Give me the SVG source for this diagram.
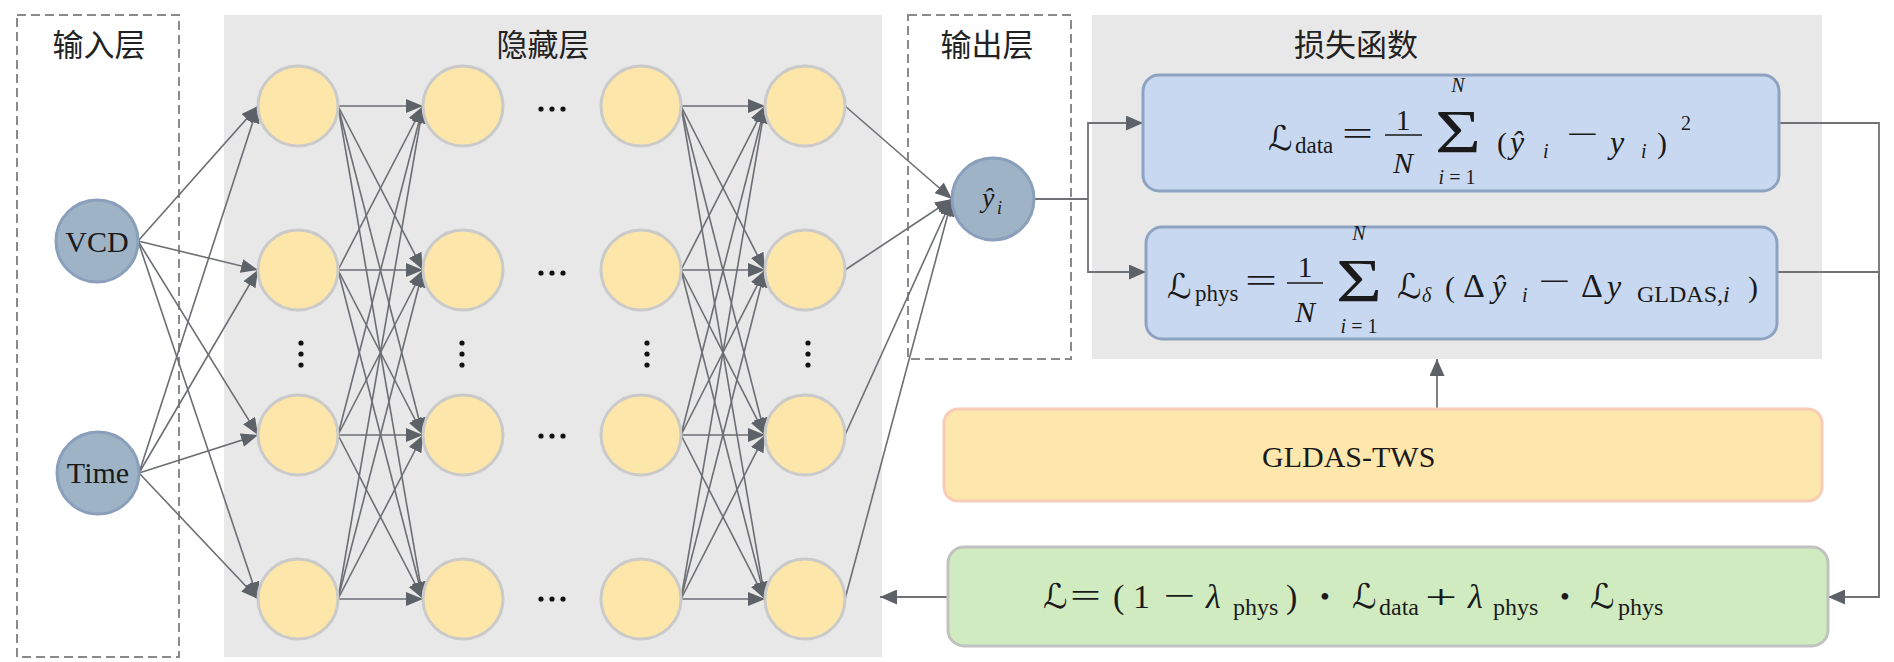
<svg xmlns="http://www.w3.org/2000/svg" width="1894" height="662" viewBox="0 0 1894 662">
<style>
.bg{fill:#e8e8e9}
.dash{fill:none;stroke:#8a8a8a;stroke-width:2;stroke-dasharray:9 5}
.hn{fill:#fde6a9;stroke:#cacaca;stroke-width:3}
.io{fill:#9fb3c6;stroke:#8a9fbc;stroke-width:3}
.e{stroke:#6b6e73;stroke-width:1.6;fill:none;marker-end:url(#ah)}
.c{stroke:#707275;stroke-width:1.8;fill:none}
.ca{stroke:#707275;stroke-width:1.8;fill:none;marker-end:url(#ah2)}
.h{font-family:"Noto Sans CJK SC",sans-serif;font-size:31px;fill:#222;text-anchor:middle}
.t{font-family:"Liberation Serif","Times New Roman","DejaVu Serif",serif;fill:#1a1a1a}
.i{font-family:"Liberation Serif","Times New Roman","DejaVu Serif",serif;font-style:italic;fill:#1a1a1a}
.cal{font-family:"DejaVu Serif","DejaVu Sans",serif;font-style:italic;fill:#1a1a1a}
.dot{fill:#111}
.fb{stroke:#1a1a1a;stroke-width:1.5}
</style>
<defs>
<marker id="ah" markerUnits="userSpaceOnUse" viewBox="0 0 17 14" markerWidth="17" markerHeight="14" refX="17" refY="7" orient="auto"><path d="M0,0 L17,7 L0,14 z" fill="#5d6168"/></marker>
<marker id="ah2" markerUnits="userSpaceOnUse" viewBox="0 0 17 15" markerWidth="17" markerHeight="15" refX="17" refY="7.5" orient="auto"><path d="M0,0 L17,7.5 L0,15 z" fill="#5d6168"/></marker>
</defs>
<rect width="1894" height="662" fill="#ffffff"/>

<g id="input-layer">
<rect class="dash" x="17" y="15" width="162" height="642"/>
<text class="h" x="99" y="56">输入层</text>
</g>
<g id="hidden-layer">
<rect class="bg" x="224" y="15" width="658" height="642"/>
<text class="h" x="543" y="56">隐藏层</text>
</g>
<g id="output-layer">
<rect class="dash" x="908" y="15" width="163" height="344"/>
<text class="h" x="987" y="56">输出层</text>
</g>
<g id="loss-function">
<rect class="bg" x="1092" y="15" width="730" height="344"/>
<text class="h" x="1356" y="56">损失函数</text>
</g>

<g id="connectors">
<line class="e" x1="138" y1="241" x2="258" y2="106"/>
<line class="e" x1="138" y1="241" x2="258" y2="270"/>
<line class="e" x1="138" y1="241" x2="258" y2="435"/>
<line class="e" x1="138" y1="241" x2="258" y2="599"/>
<line class="e" x1="139" y1="473" x2="258" y2="106"/>
<line class="e" x1="139" y1="473" x2="258" y2="270"/>
<line class="e" x1="139" y1="473" x2="258" y2="435"/>
<line class="e" x1="139" y1="473" x2="258" y2="599"/>

<line class="e" x1="338" y1="106" x2="423" y2="106"/>
<line class="e" x1="338" y1="106" x2="423" y2="270"/>
<line class="e" x1="338" y1="106" x2="423" y2="435"/>
<line class="e" x1="338" y1="106" x2="423" y2="599"/>
<line class="e" x1="338" y1="270" x2="423" y2="106"/>
<line class="e" x1="338" y1="270" x2="423" y2="270"/>
<line class="e" x1="338" y1="270" x2="423" y2="435"/>
<line class="e" x1="338" y1="270" x2="423" y2="599"/>
<line class="e" x1="338" y1="435" x2="423" y2="106"/>
<line class="e" x1="338" y1="435" x2="423" y2="270"/>
<line class="e" x1="338" y1="435" x2="423" y2="435"/>
<line class="e" x1="338" y1="435" x2="423" y2="599"/>
<line class="e" x1="338" y1="599" x2="423" y2="106"/>
<line class="e" x1="338" y1="599" x2="423" y2="270"/>
<line class="e" x1="338" y1="599" x2="423" y2="435"/>
<line class="e" x1="338" y1="599" x2="423" y2="599"/>

<line class="e" x1="681" y1="106" x2="765" y2="106"/>
<line class="e" x1="681" y1="106" x2="765" y2="270"/>
<line class="e" x1="681" y1="106" x2="765" y2="435"/>
<line class="e" x1="681" y1="106" x2="765" y2="599"/>
<line class="e" x1="681" y1="270" x2="765" y2="106"/>
<line class="e" x1="681" y1="270" x2="765" y2="270"/>
<line class="e" x1="681" y1="270" x2="765" y2="435"/>
<line class="e" x1="681" y1="270" x2="765" y2="599"/>
<line class="e" x1="681" y1="435" x2="765" y2="106"/>
<line class="e" x1="681" y1="435" x2="765" y2="270"/>
<line class="e" x1="681" y1="435" x2="765" y2="435"/>
<line class="e" x1="681" y1="435" x2="765" y2="599"/>
<line class="e" x1="681" y1="599" x2="765" y2="106"/>
<line class="e" x1="681" y1="599" x2="765" y2="270"/>
<line class="e" x1="681" y1="599" x2="765" y2="435"/>
<line class="e" x1="681" y1="599" x2="765" y2="599"/>

<line class="e" x1="845" y1="106" x2="952" y2="199"/>
<line class="e" x1="845" y1="270" x2="952" y2="199"/>
<line class="e" x1="845" y1="435" x2="952" y2="199"/>
<line class="e" x1="845" y1="599" x2="952" y2="199"/>

<polyline class="c" points="1034,199 1088,199"/>
<polyline class="ca" points="1088,199 1088,123 1143,123"/>
<polyline class="ca" points="1088,199 1088,272 1146,272"/>
<polyline class="c" points="1779,123 1879,123 1879,597"/>
<polyline class="ca" points="1777,272 1879,272 1879,597 1828,597"/>
<line class="ca" x1="1437" y1="409" x2="1437" y2="359"/>
<line class="ca" x1="948" y1="597" x2="880" y2="597"/>
</g>

<g id="node-vcd"><circle class="io" cx="97" cy="241" r="41"/><text class="t" x="97" y="252" font-size="30" text-anchor="middle">VCD</text></g>
<g id="node-time"><circle class="io" cx="98" cy="473" r="41"/><text class="t" x="98" y="483" font-size="30" text-anchor="middle">Time</text></g>

<g id="node-h1-1"><circle class="hn" cx="298" cy="106" r="40"/></g>
<g id="node-h1-2"><circle class="hn" cx="298" cy="270" r="40"/></g>
<g id="node-h1-3"><circle class="hn" cx="298" cy="435" r="40"/></g>
<g id="node-h1-4"><circle class="hn" cx="298" cy="599" r="40"/></g>
<g id="node-h2-1"><circle class="hn" cx="463" cy="106" r="40"/></g>
<g id="node-h2-2"><circle class="hn" cx="463" cy="270" r="40"/></g>
<g id="node-h2-3"><circle class="hn" cx="463" cy="435" r="40"/></g>
<g id="node-h2-4"><circle class="hn" cx="463" cy="599" r="40"/></g>
<g id="node-h3-1"><circle class="hn" cx="641" cy="106" r="40"/></g>
<g id="node-h3-2"><circle class="hn" cx="641" cy="270" r="40"/></g>
<g id="node-h3-3"><circle class="hn" cx="641" cy="435" r="40"/></g>
<g id="node-h3-4"><circle class="hn" cx="641" cy="599" r="40"/></g>
<g id="node-h4-1"><circle class="hn" cx="805" cy="106" r="40"/></g>
<g id="node-h4-2"><circle class="hn" cx="805" cy="270" r="40"/></g>
<g id="node-h4-3"><circle class="hn" cx="805" cy="435" r="40"/></g>
<g id="node-h4-4"><circle class="hn" cx="805" cy="599" r="40"/></g>

<g id="ellipses">
<circle class="dot" cx="301" cy="343" r="2.6"/><circle class="dot" cx="301" cy="354" r="2.6"/><circle class="dot" cx="301" cy="365" r="2.6"/>
<circle class="dot" cx="462" cy="343" r="2.6"/><circle class="dot" cx="462" cy="354" r="2.6"/><circle class="dot" cx="462" cy="365" r="2.6"/>
<circle class="dot" cx="647" cy="343" r="2.6"/><circle class="dot" cx="647" cy="354" r="2.6"/><circle class="dot" cx="647" cy="365" r="2.6"/>
<circle class="dot" cx="808" cy="343" r="2.6"/><circle class="dot" cx="808" cy="354" r="2.6"/><circle class="dot" cx="808" cy="365" r="2.6"/>
<circle class="dot" cx="541" cy="109" r="2.6"/><circle class="dot" cx="552" cy="109" r="2.6"/><circle class="dot" cx="563" cy="109" r="2.6"/>
<circle class="dot" cx="541" cy="273" r="2.6"/><circle class="dot" cx="552" cy="273" r="2.6"/><circle class="dot" cx="563" cy="273" r="2.6"/>
<circle class="dot" cx="541" cy="436" r="2.6"/><circle class="dot" cx="552" cy="436" r="2.6"/><circle class="dot" cx="563" cy="436" r="2.6"/>
<circle class="dot" cx="541" cy="599" r="2.6"/><circle class="dot" cx="552" cy="599" r="2.6"/><circle class="dot" cx="563" cy="599" r="2.6"/>
</g>

<g id="node-output"><circle class="io" cx="993" cy="199" r="41"/>
<text class="i" x="982" y="207" font-size="28">ŷ</text><text class="i" x="997" y="214" font-size="18">i</text></g>

<g id="node-loss-data">
<rect x="1143" y="75" width="636" height="116" rx="16" fill="#c8d8f0" stroke="#8ea3c1" stroke-width="3"/>
<text class="cal" x="1268" y="150" font-size="34">ℒ</text>
<text class="t" x="1295" y="153" font-size="23">data</text>
<text class="t" x="1342" y="145" font-size="34" textLength="31" lengthAdjust="spacingAndGlyphs">=</text>
<text class="t" x="1403" y="130" font-size="30" text-anchor="middle">1</text>
<line class="fb" x1="1385" y1="135" x2="1422" y2="135"/>
<text class="i" x="1403" y="173" font-size="30" text-anchor="middle">N</text>
<text class="i" x="1458" y="92" font-size="20" text-anchor="middle">N</text>
<text class="t" x="1435" y="152" font-size="62" textLength="46" lengthAdjust="spacingAndGlyphs">Σ</text>
<text class="t" x="1457" y="184" font-size="20" text-anchor="middle"><tspan font-style="italic">i</tspan> = 1</text>
<text class="t" x="1497" y="153" font-size="30">(</text>
<text class="i" x="1510" y="153" font-size="32">ŷ</text>
<text class="i" x="1543" y="158" font-size="20">i</text>
<text class="t" x="1566" y="145" font-size="32" textLength="32" lengthAdjust="spacingAndGlyphs">−</text>
<text class="i" x="1610" y="153" font-size="32">y</text>
<text class="i" x="1641" y="158" font-size="20">i</text>
<text class="t" x="1657" y="153" font-size="30">)</text>
<text class="t" x="1681" y="130" font-size="20">2</text>
</g>

<g id="node-loss-phys">
<rect x="1146" y="227" width="631" height="112" rx="16" fill="#c8d8f0" stroke="#8ea3c1" stroke-width="3"/>
<text class="cal" x="1167" y="298" font-size="34">ℒ</text>
<text class="t" x="1195" y="301" font-size="23">phys</text>
<text class="t" x="1245" y="292" font-size="34" textLength="32" lengthAdjust="spacingAndGlyphs">=</text>
<text class="t" x="1305" y="277" font-size="30" text-anchor="middle">1</text>
<line class="fb" x1="1287" y1="283" x2="1323" y2="283"/>
<text class="i" x="1305" y="322" font-size="30" text-anchor="middle">N</text>
<text class="i" x="1359" y="240" font-size="20" text-anchor="middle">N</text>
<text class="t" x="1336" y="301" font-size="62" textLength="46" lengthAdjust="spacingAndGlyphs">Σ</text>
<text class="t" x="1359" y="333" font-size="20" text-anchor="middle"><tspan font-style="italic">i</tspan> = 1</text>
<text class="cal" x="1397" y="298" font-size="34">ℒ</text>
<text class="i" x="1422" y="302" font-size="20">δ</text>
<text class="t" x="1445" y="297" font-size="30">(</text>
<text class="t" x="1463" y="297" font-size="34">Δ</text>
<text class="i" x="1492" y="297" font-size="32">ŷ</text>
<text class="i" x="1522" y="302" font-size="20">i</text>
<text class="t" x="1538" y="292" font-size="32" textLength="32" lengthAdjust="spacingAndGlyphs">−</text>
<text class="t" x="1581" y="297" font-size="34">Δ</text>
<text class="i" x="1607" y="297" font-size="32">y</text>
<text class="t" x="1637" y="302" font-size="24">GLDAS,<tspan font-style="italic">i</tspan></text>
<text class="t" x="1748" y="297" font-size="30">)</text>
</g>

<g id="node-gldas">
<rect x="944" y="409" width="878" height="92" rx="14" fill="#fde7ad" stroke="#f8ccb6" stroke-width="3"/>
<text class="t" x="1262" y="467" font-size="30">GLDAS-TWS</text>
</g>

<g id="node-total-loss">
<rect x="948" y="547" width="880" height="99" rx="16" fill="#d1ebc0" stroke="#c0c2c0" stroke-width="3"/>
<text class="cal" x="1043" y="608" font-size="34">ℒ</text>
<text class="t" x="1070" y="607" font-size="34" textLength="31" lengthAdjust="spacingAndGlyphs">=</text>
<text class="t" x="1113" y="608" font-size="34">(</text>
<text class="t" x="1133" y="608" font-size="34">1</text>
<text class="t" x="1163" y="607" font-size="34" textLength="32" lengthAdjust="spacingAndGlyphs">−</text>
<text class="i" x="1206" y="608" font-size="34">λ</text>
<text class="t" x="1233" y="615" font-size="24">phys</text>
<text class="t" x="1286" y="608" font-size="34">)</text>
<text class="t" x="1325" y="606" font-size="28" text-anchor="middle">•</text>
<text class="cal" x="1352" y="608" font-size="34">ℒ</text>
<text class="t" x="1379" y="615" font-size="24">data</text>
<text class="t" x="1425" y="608" font-size="34" textLength="32" lengthAdjust="spacingAndGlyphs">+</text>
<text class="i" x="1468" y="608" font-size="34">λ</text>
<text class="t" x="1493" y="615" font-size="24">phys</text>
<text class="t" x="1565" y="606" font-size="28" text-anchor="middle">•</text>
<text class="cal" x="1590" y="608" font-size="34">ℒ</text>
<text class="t" x="1618" y="615" font-size="24">phys</text>
</g>
</svg>
